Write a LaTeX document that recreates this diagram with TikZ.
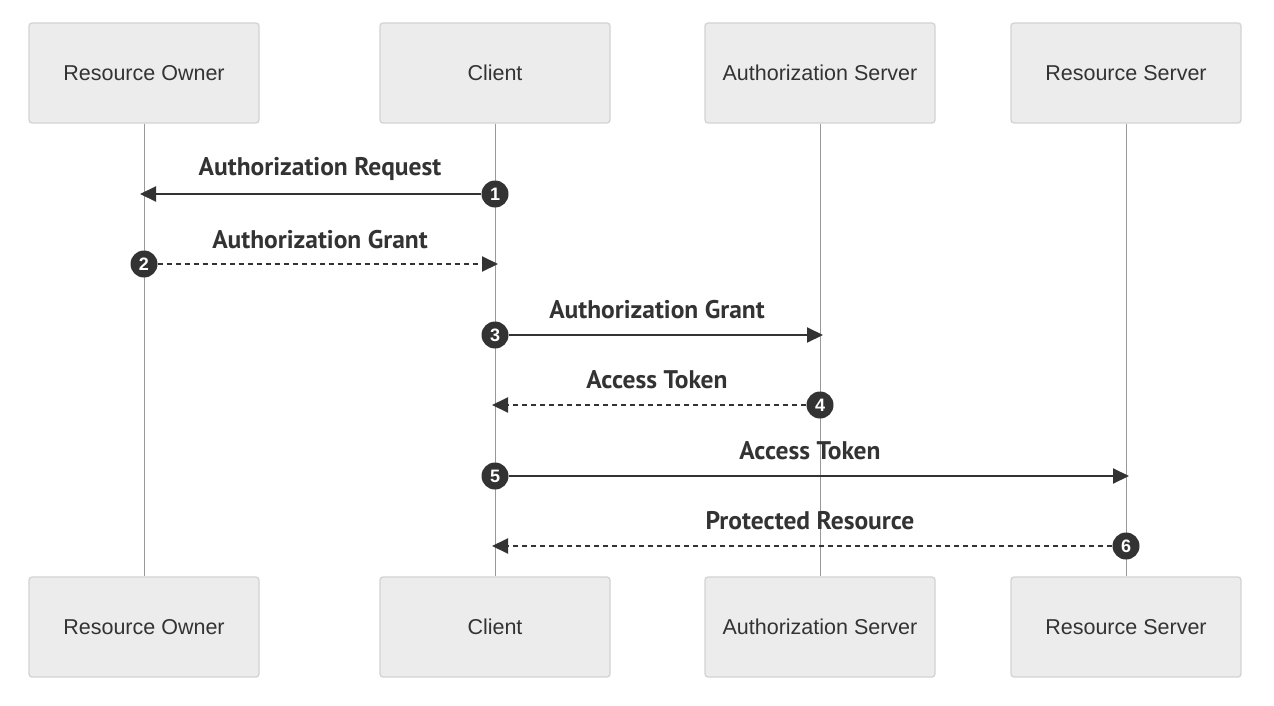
\documentclass[tikz,border=0pt]{standalone}
\usepackage{fontspec}
\setmainfont{Liberation Sans}
\newfontfamily\lblfont{PT Sans}
\usetikzlibrary{arrows.meta}
\definecolor{boxfill}{HTML}{ECECEC}
\definecolor{boxline}{HTML}{D3D3D3}
\definecolor{ink}{HTML}{333333}
\definecolor{lifeln}{HTML}{999999}
\tikzset{
  actor/.style={draw=boxline, fill=boxfill, line width=1.3pt, rounded corners=3pt,
    minimum width=230pt, minimum height=100pt, inner sep=0pt,
    font=\fontsize{21.5}{24}\selectfont, text=ink},
  lifeline/.style={draw=lifeln, line width=1pt},
  msg/.style={draw=ink, line width=2pt, -{Triangle[length=16pt,width=15pt]}},
  reply/.style={msg, dash pattern=on 5pt off 4pt},
  num/.style={circle, fill=ink, minimum size=27pt, inner sep=0pt, text=white,
    font=\fontsize{18}{18}\selectfont\bfseries},
  lbl/.style={text=ink, font=\lblfont\fontsize{25.5}{28}\selectfont\bfseries, inner sep=0pt}
}
\begin{document}
\begin{tikzpicture}[x=1pt,y=-1pt]
\useasboundingbox (0,0) rectangle (1274,706);
% actors
\node[actor] (ro) at (144,73) {Resource Owner};
\node[actor] (cl) at (495,73) {Client};
\node[actor] (as) at (820,73) {Authorization Server};
\node[actor] (rs) at (1126,73) {Resource Server};
\node[actor] (rob) at (144,627) {Resource Owner};
\node[actor] (clb) at (495,627) {Client};
\node[actor] (asb) at (820,627) {Authorization Server};
\node[actor] (rsb) at (1126,627) {Resource Server};
% lifelines
\draw[lifeline] (ro) -- (rob);
\draw[lifeline] (cl) -- (clb);
\draw[lifeline] (as) -- (asb);
\draw[lifeline] (rs) -- (rsb);
% sequence numbers
\node[num] (n1) at (495,194) {1};
\node[num] (n2) at (144,264) {2};
\node[num] (n3) at (495,335) {3};
\node[num] (n4) at (820,405) {4};
\node[num] (n5) at (495,476) {5};
\node[num] (n6) at (1126,546) {6};
% arrow ends
\coordinate (e1) at (140,194);
\coordinate (e2) at (498,264);
\coordinate (e3) at (823,335);
\coordinate (e4) at (492,405);
\coordinate (e5) at (1129,476);
\coordinate (e6) at (492,546);
% messages
\draw[msg] (n1) -- (e1);
\draw[reply] (n2) -- (e2);
\draw[msg] (n3) -- (e3);
\draw[reply] (n4) -- (e4);
\draw[msg] (n5) -- (e5);
\draw[reply] (n6) -- (e6);
% labels
\node[lbl] (l1) at (320,169) {Authorization Request};
\node[lbl] (l2) at (320,240) {Authorization Grant};
\node[lbl] (l3) at (657,310) {Authorization Grant};
\node[lbl] (l4) at (657,380) {Access Token};
\node[lbl] (l5) at (810,451) {Access Token};
\node[lbl] (l6) at (810,521) {Protected Resource};
\end{tikzpicture}
\end{document}
